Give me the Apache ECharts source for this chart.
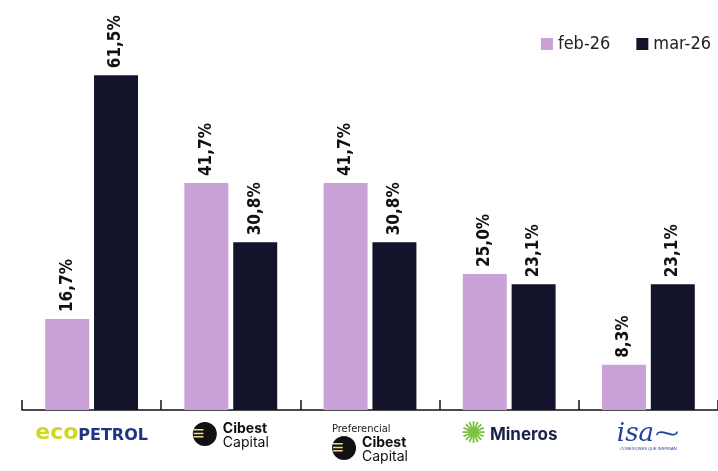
<!DOCTYPE html>
<html>
<head>
<meta charset="utf-8">
<script src="https://cdn.jsdelivr.net/npm/echarts@6/dist/echarts.min.js"></script>
<style>
html,body{margin:0;padding:0;background:#fff;}
#chart{width:718px;height:471px;}
</style>
</head>
<body>
<div id="chart"></div>
<script>
const categories = ['Ecopetrol', 'Cibest Capital', 'Preferencial Cibest Capital', 'Mineros', 'ISA'];
const seriesNames = ['feb-26', 'mar-26'];
const febValues = [16.7, 41.7, 41.7, 25.0, 8.3];
const marValues = [61.5, 30.8, 30.8, 23.1, 23.1];

const COND = "'Liberation Sans Narrow','DejaVu Sans Condensed','Roboto Condensed',Roboto,sans-serif";

function catLabel(v) {
  if (v === 'Ecopetrol') return '{eco|eco}{pet|PETROL}';
  if (v === 'Cibest Capital') return '{ico|≡}{cb|Cibest}\n{sp|}{cc|Capital}';
  if (v === 'Preferencial Cibest Capital') return '{pref|Preferencial}\n{ico|≡}{cb|Cibest}\n{sp|}{cc|Capital}';
  if (v === 'Mineros') return '{min|✺}{mn|Mineros}';
  if (v === 'ISA') return '{isa|isa}{sw|⁓}\n{tiny|CONEXIONES QUE INSPIRAN}';
  return v;
}

const chart = echarts.init(document.getElementById('chart'));
chart.setOption({
  animation: false,
  backgroundColor: '#ffffff',
  legend: {
    data: seriesNames,
    right: 2,
    top: 30,
    itemWidth: 12,
    itemHeight: 12,
    itemGap: 26,
    icon: 'rect',
    textStyle: { fontFamily: COND, fontSize: 18, color: '#222' }
  },
  grid: { left: 22, right: -2, top: 29, bottom: 61 },
  xAxis: {
    type: 'category',
    data: categories,
    axisLine: { lineStyle: { color: '#111', width: 1.5 } },
    axisTick: { show: true, inside: true, length: 10, lineStyle: { color: '#111', width: 1.5 } },
    axisLabel: {
      interval: 0,
      margin: 12,
      formatter: catLabel,
      rich: {
        eco: { color: '#cfd81f', fontSize: 22, fontWeight: 'bold', fontFamily: 'DejaVu Sans', verticalAlign: 'bottom' },
        pet: { color: '#1f3483', fontSize: 16, fontWeight: 'bold', fontFamily: "'DejaVu Sans'", verticalAlign: 'bottom' },
        ico: { width: 24, height: 24, lineHeight: 13, borderRadius: 12, backgroundColor: '#111', color: '#f2d88a', fontSize: 20, fontWeight: 'bold', align: 'left', verticalAlign: 'top' },
        sp: { width: 30, align: 'left' },
        cb: { color: '#111', fontSize: 14, fontWeight: 'bold', fontFamily: 'Inter, sans-serif', lineHeight: 13, align: 'left', padding: [0, 0, 0, 6] },
        cc: { color: '#111', fontSize: 14, fontFamily: 'Inter, sans-serif', lineHeight: 15, align: 'left' },
        pref: { color: '#222', fontSize: 11, fontFamily: COND, lineHeight: 14, align: 'left' },
        min: { color: '#7cc242', fontSize: 30, lineHeight: 26, padding: [0, 4, 0, 0] },
        mn: { color: '#1c1f4a', fontSize: 17, fontWeight: 'bold', fontFamily: 'Inter, sans-serif' },
        isa: { color: '#22409d', fontSize: 26, fontStyle: 'italic', fontFamily: "'DejaVu Serif', serif", lineHeight: 24 },
        sw: { color: '#22409d', fontSize: 26, lineHeight: 24 },
        tiny: { color: '#22409d', fontSize: 4, lineHeight: 6 }
      }
    }
  },
  yAxis: {
    type: 'value',
    min: 0,
    max: 70,
    show: false,
    splitLine: { show: false }
  },
  series: [
    {
      name: seriesNames[0],
      type: 'bar',
      data: febValues,
      barWidth: 44,
      barGap: '11%',
      itemStyle: { color: '#c9a3d8' },
      label: {
        show: true, position: 'top', rotate: 90, align: 'left', verticalAlign: 'middle', distance: 7,
        fontFamily: COND, fontSize: 17, fontWeight: 'bold', color: '#111',
        formatter: p => p.value.toFixed(1).replace('.', ',') + '%'
      }
    },
    {
      name: seriesNames[1],
      type: 'bar',
      data: marValues,
      barWidth: 44,
      barGap: '11%',
      itemStyle: { color: '#13132b' },
      label: {
        show: true, position: 'top', rotate: 90, align: 'left', verticalAlign: 'middle', distance: 7,
        fontFamily: COND, fontSize: 17, fontWeight: 'bold', color: '#111',
        formatter: p => p.value.toFixed(1).replace('.', ',') + '%'
      }
    }
  ]
});
</script>
</body>
</html>
